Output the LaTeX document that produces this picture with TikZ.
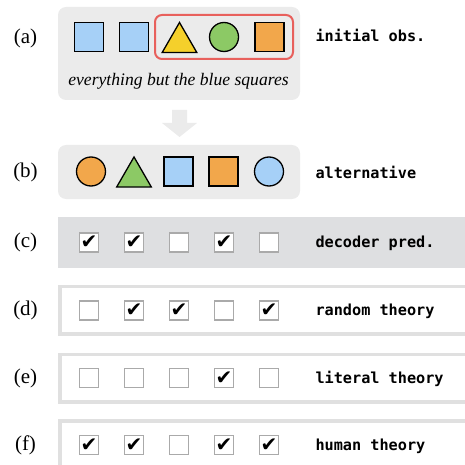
\documentclass[tikz,border=0pt]{standalone}
\usepackage{fontspec}
\setmainfont{Liberation Serif}
\setmonofont{DejaVu Sans Mono}
\newfontfamily\symbolfont{DejaVu Sans}
\usepackage{xcolor}
\usetikzlibrary{shapes.geometric,positioning}
\definecolor{lightblue}{HTML}{A6D0F7}
\definecolor{sunyellow}{HTML}{F5D02B}
\definecolor{leafgreen}{HTML}{8CC965}
\definecolor{paleorange}{HTML}{F2A74B}
\definecolor{boxred}{HTML}{E8605C}
\definecolor{panelgray}{HTML}{EBEBEB}
\definecolor{bandgray}{HTML}{DEDFE1}
\definecolor{rimgray}{HTML}{E0E0E0}
\definecolor{tickgray}{HTML}{AAAAAA}

\begin{document}
\begin{tikzpicture}[x=1pt,y=-1pt,
  sq/.style={draw=black,line width=1.3pt,minimum size=29pt,inner sep=0pt},
  circ/.style={circle,draw=black,line width=1.3pt,minimum size=29pt,inner sep=0pt},
  tri/.style={regular polygon,regular polygon sides=3,draw=black,line width=1.3pt,minimum size=40pt,inner sep=0pt},
  tickbox/.style={draw=tickgray,fill=white,line width=1.5pt,minimum size=19pt,inner sep=0pt,font=\symbolfont\fontsize{20}{20}\selectfont},
  tag/.style={font=\fontsize{21}{21}\selectfont},
  title/.style={anchor=west,font=\ttfamily\bfseries\fontsize{15.2}{15}\selectfont}]
\useasboundingbox (0,0) rectangle (464,465);

% (a) initial observation
\fill[panelgray,rounded corners=8pt] (58,7) rectangle (300,100);
\draw[boxred,line width=2pt,rounded corners=7pt] (155,15) rectangle (293,59);
\node[sq,fill=lightblue] (a1) at (89,37) {};
\node[sq,fill=lightblue] (a2) at (134,37) {};
\node[tri,fill=sunyellow] (a3) at (179.5,42.5) {};
\node[circ,fill=leafgreen] (a4) at (224,37) {};
\node[sq,fill=paleorange] (a5) at (269.5,37) {};
\node[font=\itshape\fontsize{17.6}{17}\selectfont] (rule) at (178.5,81) {everything but the blue squares};
\node[tag] (taga) at (25.5,38) {(a)};
\node[title] (namea) at (312,35) {initial obs.};

% arrow
\fill[panelgray] (172,110) -- (187,110) -- (187,123) -- (197,123) -- (179.5,137)
  -- (162,123) -- (172,123) -- cycle;

% (b) alternative
\fill[panelgray,rounded corners=8pt] (58,145) rectangle (300,199);
\node[circ,fill=paleorange] (b1) at (91,171.5) {};
\node[tri,fill=leafgreen] (b2) at (134,177) {};
\node[sq,fill=lightblue] (b3) at (178.5,171.5) {};
\node[sq,fill=paleorange] (b4) at (223.5,171.5) {};
\node[circ,fill=lightblue] (b5) at (269,171.5) {};
\node[tag] (tagb) at (25.5,172) {(b)};
\node[title] (nameb) at (312,172) {alternative};

% (c)-(f) predictions
\fill[bandgray] (58,217) rectangle (470,268);
\draw[rimgray,line width=3.5pt] (60,286.5) rectangle (470,334);
\draw[rimgray,line width=3.5pt] (60,354.5) rectangle (470,402);
\draw[rimgray,line width=3.5pt] (60,421) rectangle (470,480);

\foreach \m [count=\i] in {1,1,0,1,0}
  \node[tickbox] (c\i) at (44+45*\i,242.5) {\ifnum\m=1 ✔\fi};
\foreach \m [count=\i] in {0,1,1,0,1}
  \node[tickbox] (d\i) at (44+45*\i,310.5) {\ifnum\m=1 ✔\fi};
\foreach \m [count=\i] in {0,0,0,1,0}
  \node[tickbox] (e\i) at (44+45*\i,378) {\ifnum\m=1 ✔\fi};
\foreach \m [count=\i] in {1,1,0,1,1}
  \node[tickbox] (f\i) at (44+45*\i,445) {\ifnum\m=1 ✔\fi};

\node[tag] (tagc) at (25.5,242) {(c)};
\node[tag] (tagd) at (25.5,310) {(d)};
\node[tag] (tage) at (25.5,378) {(e)};
\node[tag] (tagf) at (25.5,445) {(f)};
\node[title] (namec) at (312,243) {decoder pred.};
\node[title] (named) at (312,311) {random theory};
\node[title] (namee) at (312,379) {literal theory};
\node[title] (namef) at (312,446) {human theory};
\end{tikzpicture}
\end{document}
